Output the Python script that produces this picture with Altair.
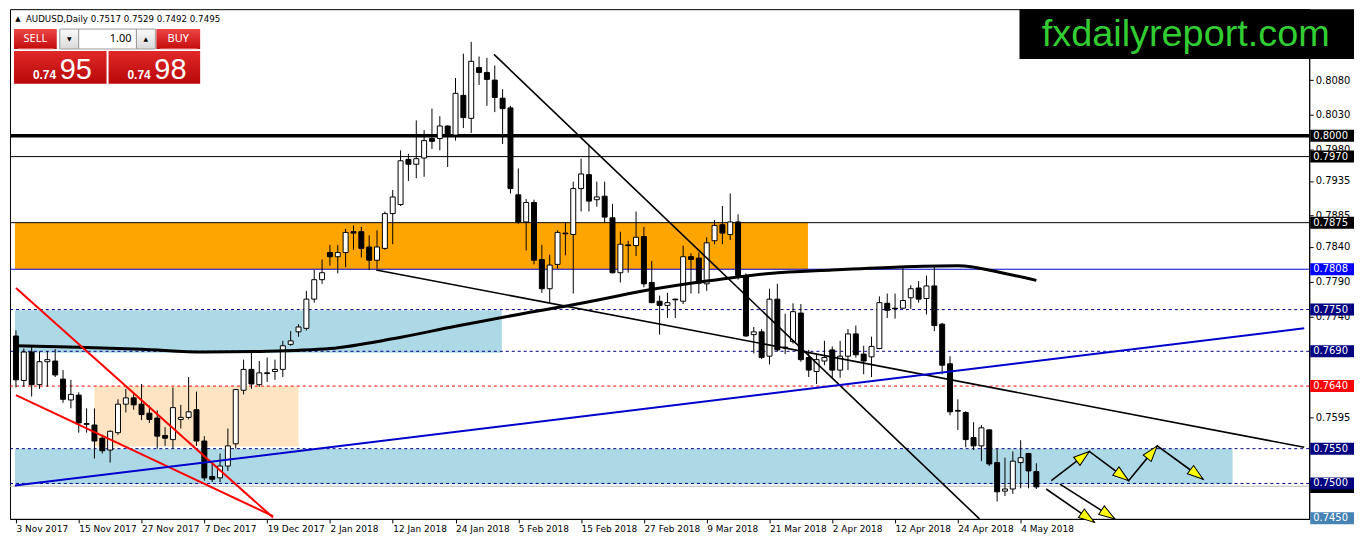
import altair as alt
import pandas as pd

# ---------------- data ----------------
date_labels = ["3 Nov 2017", "15 Nov 2017", "27 Nov 2017", "7 Dec 2017", "19 Dec 2017",
               "2 Jan 2018", "12 Jan 2018", "24 Jan 2018", "5 Feb 2018", "15 Feb 2018",
               "27 Feb 2018", "9 Mar 2018", "21 Mar 2018", "2 Apr 2018", "12 Apr 2018",
               "24 Apr 2018", "4 May 2018"]
date_ticks = [0, 8, 16, 24, 32, 40, 48, 56, 64, 72, 80, 88, 96, 104, 112, 120, 128]

opens = [0.7712, 0.7648, 0.7689, 0.7642, 0.7675, 0.7676, 0.7650, 0.7620, 0.7627, 0.7586,
         0.7584, 0.7565, 0.7548, 0.7573, 0.7614, 0.7623, 0.7614, 0.7601, 0.7594, 0.7569,
         0.7563, 0.7592, 0.7595, 0.7606, 0.7561, 0.7510, 0.7508, 0.7525, 0.7557, 0.7634,
         0.7664, 0.7642, 0.7659, 0.7661, 0.7664, 0.7700, 0.7718, 0.7723, 0.7765, 0.7793,
         0.7832, 0.7826, 0.7832, 0.7862, 0.7862, 0.7840, 0.7821, 0.7838, 0.7888, 0.7901,
         0.7966, 0.7959, 0.7968, 0.7996, 0.7996, 0.8014, 0.8001, 0.8058, 0.8025, 0.8098,
         0.8091, 0.8080, 0.8054, 0.8040, 0.7915, 0.7876, 0.7904, 0.7822, 0.7780, 0.7815,
         0.7860, 0.7858, 0.7924, 0.7944, 0.7908, 0.7913, 0.7882, 0.7803, 0.7843, 0.7842,
         0.7855, 0.7789, 0.7762, 0.7756, 0.7765, 0.7762, 0.7826, 0.7824, 0.7787, 0.7849,
         0.7872, 0.7858, 0.7876, 0.7798, 0.7714, 0.7718, 0.7683, 0.7765, 0.7696, 0.7704,
         0.7745, 0.7681, 0.7661, 0.7676, 0.7692, 0.7663, 0.7683, 0.7715, 0.7686, 0.7682,
         0.7694, 0.7759, 0.7752, 0.7752, 0.7767, 0.7781, 0.7766, 0.7784, 0.7729, 0.7672,
         0.7605, 0.7602, 0.7566, 0.7554, 0.7577, 0.7530, 0.7489, 0.7492, 0.7530, 0.7543,
         0.7517]
highs = [0.7720, 0.7694, 0.7698, 0.7690, 0.7690, 0.7693, 0.7663, 0.7649, 0.7631, 0.7608,
         0.7608, 0.7570, 0.7576, 0.7621, 0.7636, 0.7630, 0.7643, 0.7612, 0.7605, 0.7581,
         0.7638, 0.7613, 0.7653, 0.7632, 0.7568, 0.7532, 0.7543, 0.7579, 0.7636, 0.7678,
         0.7692, 0.7676, 0.7681, 0.7678, 0.7705, 0.7719, 0.7729, 0.7777, 0.7807, 0.7822,
         0.7843, 0.7843, 0.7866, 0.7871, 0.7869, 0.7857, 0.7864, 0.7891, 0.7922, 0.7979,
         0.7974, 0.8022, 0.8008, 0.8039, 0.8028, 0.8015, 0.8083, 0.8118, 0.8135, 0.8114,
         0.8112, 0.8101, 0.8067, 0.8043, 0.7953, 0.7909, 0.7908, 0.7843, 0.7829, 0.7864,
         0.7876, 0.7934, 0.7967, 0.7986, 0.7934, 0.7934, 0.7902, 0.7862, 0.7849, 0.7891,
         0.7869, 0.7820, 0.7770, 0.7774, 0.7766, 0.7842, 0.7831, 0.7832, 0.7854, 0.7879,
         0.7899, 0.7917, 0.7887, 0.7802, 0.7725, 0.7722, 0.7780, 0.7787, 0.7744, 0.7759,
         0.7758, 0.7692, 0.7687, 0.7705, 0.7697, 0.7705, 0.7722, 0.7727, 0.7698, 0.7711,
         0.7769, 0.7773, 0.7773, 0.7810, 0.7785, 0.7791, 0.7799, 0.7813, 0.7731, 0.7683,
         0.7621, 0.7604, 0.7588, 0.7584, 0.7578, 0.7550, 0.7537, 0.7546, 0.7562, 0.7544,
         0.7529]
lows = [0.7638, 0.7639, 0.7625, 0.7636, 0.7639, 0.7653, 0.7616, 0.7608, 0.7573, 0.7573,
        0.7536, 0.7543, 0.7530, 0.7570, 0.7602, 0.7606, 0.7591, 0.7587, 0.7550, 0.7554,
        0.7550, 0.7579, 0.7592, 0.7554, 0.7504, 0.7502, 0.7502, 0.7518, 0.7550, 0.7628,
        0.7636, 0.7639, 0.7646, 0.7649, 0.7653, 0.7698, 0.7711, 0.7720, 0.7760, 0.7787,
        0.7813, 0.7802, 0.7811, 0.7836, 0.7825, 0.7807, 0.7809, 0.7836, 0.7844, 0.7899,
        0.7935, 0.7939, 0.7941, 0.7981, 0.7979, 0.7955, 0.7993, 0.8011, 0.8004, 0.8073,
        0.8043, 0.8034, 0.7988, 0.7917, 0.7873, 0.7835, 0.7815, 0.7774, 0.7760, 0.7809,
        0.7828, 0.7773, 0.7891, 0.7891, 0.7898, 0.7875, 0.7802, 0.7789, 0.7803, 0.7827,
        0.7782, 0.7759, 0.7714, 0.7738, 0.7738, 0.7758, 0.7773, 0.7773, 0.7777, 0.7844,
        0.7844, 0.7850, 0.7793, 0.7711, 0.7687, 0.7679, 0.7671, 0.7690, 0.7686, 0.7701,
        0.7675, 0.7653, 0.7643, 0.7670, 0.7652, 0.7652, 0.7663, 0.7681, 0.7657, 0.7653,
        0.7693, 0.7738, 0.7737, 0.7751, 0.7751, 0.7760, 0.7743, 0.7719, 0.7657, 0.7598,
        0.7577, 0.7552, 0.7548, 0.7532, 0.7525, 0.7474, 0.7482, 0.7485, 0.7493, 0.7493,
        0.7492]
closes = [0.7649, 0.7689, 0.7642, 0.7675, 0.7678, 0.7656, 0.7621, 0.7628, 0.7587, 0.7585,
          0.7561, 0.7547, 0.7575, 0.7614, 0.7623, 0.7613, 0.7599, 0.7592, 0.7568, 0.7565,
          0.7609, 0.7595, 0.7603, 0.7561, 0.7508, 0.7506, 0.7525, 0.7554, 0.7635, 0.7664,
          0.7643, 0.7659, 0.7658, 0.7664, 0.7698, 0.7705, 0.7725, 0.7765, 0.7793, 0.7803,
          0.7826, 0.7832, 0.7861, 0.7860, 0.7838, 0.7821, 0.7840, 0.7888, 0.7912, 0.7964,
          0.7959, 0.7967, 0.7993, 0.7992, 0.8014, 0.8001, 0.8061, 0.8026, 0.8107, 0.8091,
          0.8081, 0.8055, 0.8039, 0.7924, 0.7876, 0.7904, 0.7821, 0.7780, 0.7814, 0.7861,
          0.7859, 0.7924, 0.7945, 0.7906, 0.7912, 0.7883, 0.7803, 0.7844, 0.7842, 0.7854,
          0.7787, 0.7760, 0.7756, 0.7760, 0.7764, 0.7826, 0.7822, 0.7788, 0.7846, 0.7871,
          0.7860, 0.7876, 0.7799, 0.7712, 0.7718, 0.7681, 0.7765, 0.7692, 0.7695, 0.7747,
          0.7678, 0.7663, 0.7678, 0.7681, 0.7663, 0.7683, 0.7715, 0.7685, 0.7676, 0.7697,
          0.7760, 0.7749, 0.7751, 0.7763, 0.7780, 0.7765, 0.7784, 0.7727, 0.7670, 0.7603,
          0.7604, 0.7563, 0.7554, 0.7580, 0.7528, 0.7488, 0.7492, 0.7532, 0.7537, 0.7518,
          0.7495]

# moving average (read at every 8th bar)
ma_idx = [0, 8, 16, 24, 32, 40, 48, 56, 64, 72, 80, 88, 96, 104, 112, 120, 126, 130]
ma_val = [0.7698, 0.7696, 0.7693, 0.7689, 0.7690, 0.7694, 0.7708, 0.7726, 0.7743, 0.7759,
          0.7777, 0.7791, 0.7802, 0.7807, 0.7811, 0.7813, 0.7802, 0.7792]

# zones
zone_i1 = [-0.125, -0.125, 10, -0.125]
zone_i2 = [100.9, 61.9, 36, 155]
zone_p1 = [0.7875, 0.7749, 0.7640, 0.7550]
zone_p2 = [0.7808, 0.7688, 0.7553, 0.7499]
zone_col = ["#FFA500", "#ADD8E6", "#FFE4C4", "#ADD8E6"]

# horizontal levels
solid_p = [0.8000, 0.7970, 0.7875, 0.7808, 0.7496]
solid_col = ["black", "black", "black", "#0000CC", "#B8B8B8"]
solid_w = [3.5, 1, 1, 1, 1]
dash_p = [0.7750, 0.7690, 0.7640, 0.7550, 0.7500]
dash_col = ["#000080", "#000080", "#FF0000", "#000080", "#000080"]

# trend lines & arrows : (id, index, price)
tl_id = ["r1", "r1", "r2", "r2", "b1", "b1", "b2", "b2", "bl", "bl",
         "z", "z", "z", "z", "z", "a1", "a1", "a2", "a2"]
tl_i = [0, 32.75, 0, 32.75, 60.9, 122.75, 45.9, 164.125, -0.125, 164.125,
        131.9, 136.75, 141.75, 145.4, 151.25, 131.25, 137.4, 133.0, 140.0]
tl_p = [0.7781, 0.7451, 0.7627, 0.7453, 0.8117, 0.7449, 0.7807, 0.7552, 0.7497, 0.7723,
        0.7504, 0.7546, 0.7504, 0.7554, 0.7506, 0.7492, 0.7444, 0.7499, 0.7449]
tl_col = {"r1": "#FF0000", "r2": "#FF0000", "b1": "black", "b2": "black", "bl": "#0000CD",
          "z": "black", "a1": "black", "a2": "black"}
tl_w = {"r1": 2, "r2": 2, "b1": 1.6, "b2": 1.6, "bl": 2, "z": 1.6, "a1": 1.6, "a2": 1.6}

head_i = [136.75, 141.75, 145.4, 151.25, 137.4, 140.0]
head_p = [0.7546, 0.7504, 0.7554, 0.7506, 0.7444, 0.7449]
head_ang = [52, 127, 39, 127, 125, 123]

# right-axis price labels (those fully hidden behind level boxes are left out)
y_ticks = [0.8080, 0.8030, 0.7980, 0.7935, 0.7885, 0.7840, 0.7790, 0.7740, 0.7595]
box_p = [0.8000, 0.7970, 0.7875, 0.7808, 0.7750, 0.7690, 0.7640, 0.7550, 0.7500, 0.7450]
box_col = ["black", "black", "black", "#0000FF", "#000080", "#000080", "#FF0000",
           "#000080", "#000080", "#4682B4"]
cur_p = [0.7495]

bid, ask, lot = 0.7495, 0.7498, "1.00"

# ---------------- chart ----------------
W, H = 1305, 512
FONT = "DejaVu Sans"
xs = alt.Scale(domain=[-0.125, 164.125], nice=False, zero=False)
ys = alt.Scale(domain=[0.7449, 0.8182], nice=False, zero=False)

labels_js = "[" + ",".join("'" + d + "'" for d in date_labels) + "]"
xaxis = alt.Axis(values=date_ticks, labelExpr=labels_js + "[round(datum.value / 8)]",
                 labelAlign="left", labelBaseline="top", labelPadding=2, tickSize=4,
                 tickColor="black", domainColor="black", labelColor="black",
                 labelFont=FONT, labelFontSize=9, labelOverlap=False, labelFlush=False,
                 grid=False, title=None)
yaxis = alt.Axis(orient="right", values=y_ticks, format=".4f", tickSize=4, labelPadding=2,
                 labelFont=FONT, labelFontSize=10, labelColor="black", domainColor="black",
                 tickColor="black", grid=False, title=None, labelOverlap=False,
                 labelFlush=False)


def X(f):
    return alt.X(f, scale=xs, axis=xaxis)


def Y(f):
    return alt.Y(f, scale=ys, axis=yaxis)


df = pd.DataFrame({"i": list(range(len(opens))), "open": opens, "high": highs,
                   "low": lows, "close": closes})
zone_df = pd.DataFrame({"x1": zone_i1, "x2": zone_i2, "p1": zone_p1, "p2": zone_p2,
                        "col": zone_col})
solid_df = pd.DataFrame({"p": solid_p, "col": solid_col, "w": solid_w})
dash_df = pd.DataFrame({"p": dash_p, "col": dash_col})
ma_df = pd.DataFrame({"i": ma_idx, "p": ma_val})
tl_df = pd.DataFrame({"id": tl_id, "i": tl_i, "p": tl_p})
tl_df["col"] = tl_df["id"].map(tl_col)
tl_df["w"] = tl_df["id"].map(tl_w)
head_df = pd.DataFrame({"i": head_i, "p": head_p, "a": head_ang})
box_df = pd.DataFrame({"p": box_p, "col": box_col})
cur_df = pd.DataFrame({"p": cur_p, "col": ["black"]})

zones = alt.Chart(zone_df).mark_rect().encode(
    x=X("x1:Q"), x2="x2:Q", y=Y("p1:Q"), y2="p2:Q",
    color=alt.Color("col:N", scale=None))

solid = alt.Chart(solid_df).mark_rule().encode(
    x=alt.value(0), x2=alt.value(W), y=Y("p:Q"),
    color=alt.Color("col:N", scale=None), strokeWidth=alt.StrokeWidth("w:Q", scale=None))
dashed = alt.Chart(dash_df).mark_rule(strokeDash=[3, 3], strokeWidth=1).encode(
    x=alt.value(0), x2=alt.value(W), y=Y("p:Q"), color=alt.Color("col:N", scale=None))

wicks = alt.Chart(df).mark_rule(color="black", strokeWidth=1).encode(
    x=X("i:Q"), y=Y("low:Q"), y2="high:Q")
bodies = alt.Chart(df).mark_bar(size=5, stroke="black", strokeWidth=1).encode(
    x=X("i:Q"), y=Y("open:Q"), y2="close:Q",
    fill=alt.condition(alt.datum.close > alt.datum.open, alt.value("white"), alt.value("black")))

ma = alt.Chart(ma_df).mark_line(color="black", strokeWidth=3, interpolate="monotone").encode(
    x=X("i:Q"), y=Y("p:Q"))

lines = alt.Chart(tl_df).mark_line().encode(
    x=X("i:Q"), y=Y("p:Q"), detail="id:N",
    color=alt.Color("col:N", scale=None), strokeWidth=alt.StrokeWidth("w:Q", scale=None))

heads = alt.Chart(head_df).mark_point(
    shape="M0,0L0.65,2L-0.65,2Z", size=256, filled=True, fill="#FFFF00",
    stroke="black", strokeWidth=1, opacity=1).encode(
    x=X("i:Q"), y=Y("p:Q"), angle=alt.Angle("a:Q", scale=None))

BOX = "M0.17,-1L7.5,-1L7.5,1L0.17,1Z"
cur_box = alt.Chart(cur_df).mark_point(shape=BOX, size=144, filled=True, opacity=1,
                                       strokeWidth=0).encode(
    x=alt.value(W), y=Y("p:Q"), fill=alt.Fill("col:N", scale=None))
boxes = alt.Chart(box_df).mark_point(shape=BOX, size=144, filled=True, opacity=1,
                                     strokeWidth=0).encode(
    x=alt.value(W), y=Y("p:Q"), fill=alt.Fill("col:N", scale=None))
box_txt = alt.Chart(box_df).mark_text(align="left", baseline="middle", font=FONT, fontSize=10,
                                      color="white", dx=4).encode(
    x=alt.value(W), y=Y("p:Q"), text=alt.Text("p:Q", format=".4f"))

one = alt.Data(values=[{"k": 0}])


def ui_rect(x1, y1, x2, y2, **style):
    return alt.Chart(one).mark_rect(**style).encode(
        x=alt.value(x1), x2=alt.value(x2), y=alt.value(y1), y2=alt.value(y2))


def ui_text(x, y, s, **style):
    return alt.Chart(one).mark_text(text=s, **style).encode(x=alt.value(x), y=alt.value(y))


RED = alt.Gradient(gradient="linear", x1=0, x2=0, y1=0, y2=1,
                   stops=[alt.GradientStop(color="#EC4545", offset=0),
                          alt.GradientStop(color="#C40C0C", offset=1)])
RED2 = alt.Gradient(gradient="linear", x1=0, x2=0, y1=0, y2=1,
                    stops=[alt.GradientStop(color="#E02828", offset=0),
                           alt.GradientStop(color="#B80808", offset=1)])
GREY = alt.Gradient(gradient="linear", x1=0, x2=0, y1=0, y2=1,
                    stops=[alt.GradientStop(color="#FAFAFA", offset=0),
                           alt.GradientStop(color="#DADADA", offset=1)])

bid_s, ask_s = f"{bid:.4f}", f"{ask:.4f}"
header = f"AUDUSD,Daily  {opens[-1]:.4f} {highs[-1]:.4f} {lows[-1]:.4f} {closes[-1]:.4f}"

ui = [
    ui_rect(4, 19, 191, 75, fill="white"),
    ui_rect(4, 20, 47, 40, fill=RED),
    ui_rect(147, 20, 191, 40, fill=RED),
    ui_rect(8, 39.5, 44, 40.5, fill="#F2A0A0"),
    ui_rect(151, 39.5, 188, 40.5, fill="#F2A0A0"),
    ui_rect(50, 20, 69, 40, fill=GREY, stroke="#9A9A9A", strokeWidth=1),
    ui_rect(69, 20, 127, 40, fill="white", stroke="#9A9A9A", strokeWidth=1),
    ui_rect(127, 20, 146, 40, fill=GREY, stroke="#9A9A9A", strokeWidth=1),
    ui_rect(4, 42, 97, 75, fill=RED2),
    ui_rect(99, 42, 191, 75, fill=RED2),
    ui_text(25.5, 30, "SELL", font="Noto Sans", fontSize=11, color="white", align="center",
            baseline="middle"),
    ui_text(169, 30, "BUY", font="Noto Sans", fontSize=11, color="white", align="center",
            baseline="middle"),
    ui_text(59.5, 30, "▼", font=FONT, fontSize=6, color="black", align="center",
            baseline="middle"),
    ui_text(136.5, 30, "▲", font=FONT, fontSize=6, color="black", align="center",
            baseline="middle"),
    ui_text(122, 30, lot, font="Noto Sans", fontSize=11, color="black", align="right",
            baseline="middle"),
    ui_text(23, 70, bid_s[:4], font="Liberation Sans", fontSize=12, fontWeight="bold",
            color="white", align="left", baseline="alphabetic"),
    ui_text(50, 70, bid_s[4:], font="Liberation Sans", fontSize=29, color="white",
            align="left", baseline="alphabetic"),
    ui_text(118, 70, ask_s[:4], font="Liberation Sans", fontSize=12, fontWeight="bold",
            color="white", align="left", baseline="alphabetic"),
    ui_text(145, 70, ask_s[4:], font="Liberation Sans", fontSize=29, color="white",
            align="left", baseline="alphabetic"),
    ui_text(8, 10, "▲", font=FONT, fontSize=7, color="black", align="center",
            baseline="middle"),
    ui_text(16, 10, header, font=FONT, fontSize=8.7, color="black", align="left",
            baseline="middle"),
    ui_rect(1014, 0, W + 45, 50, fill="black"),
    ui_text(1181, 26, "fxdailyreport.com", font="Liberation Sans", fontSize=38,
            color="#32CD32", align="center", baseline="middle"),
]

chart = alt.layer(zones, dashed, solid, wicks, bodies, ma, lines, heads,
                  cur_box, boxes, box_txt, *ui).properties(
    width=W, height=H, padding=0, background="white"
).configure_view(stroke="black", strokeWidth=1)

chart.save("out.html", embed_options={"renderer": "svg", "actions": False})
